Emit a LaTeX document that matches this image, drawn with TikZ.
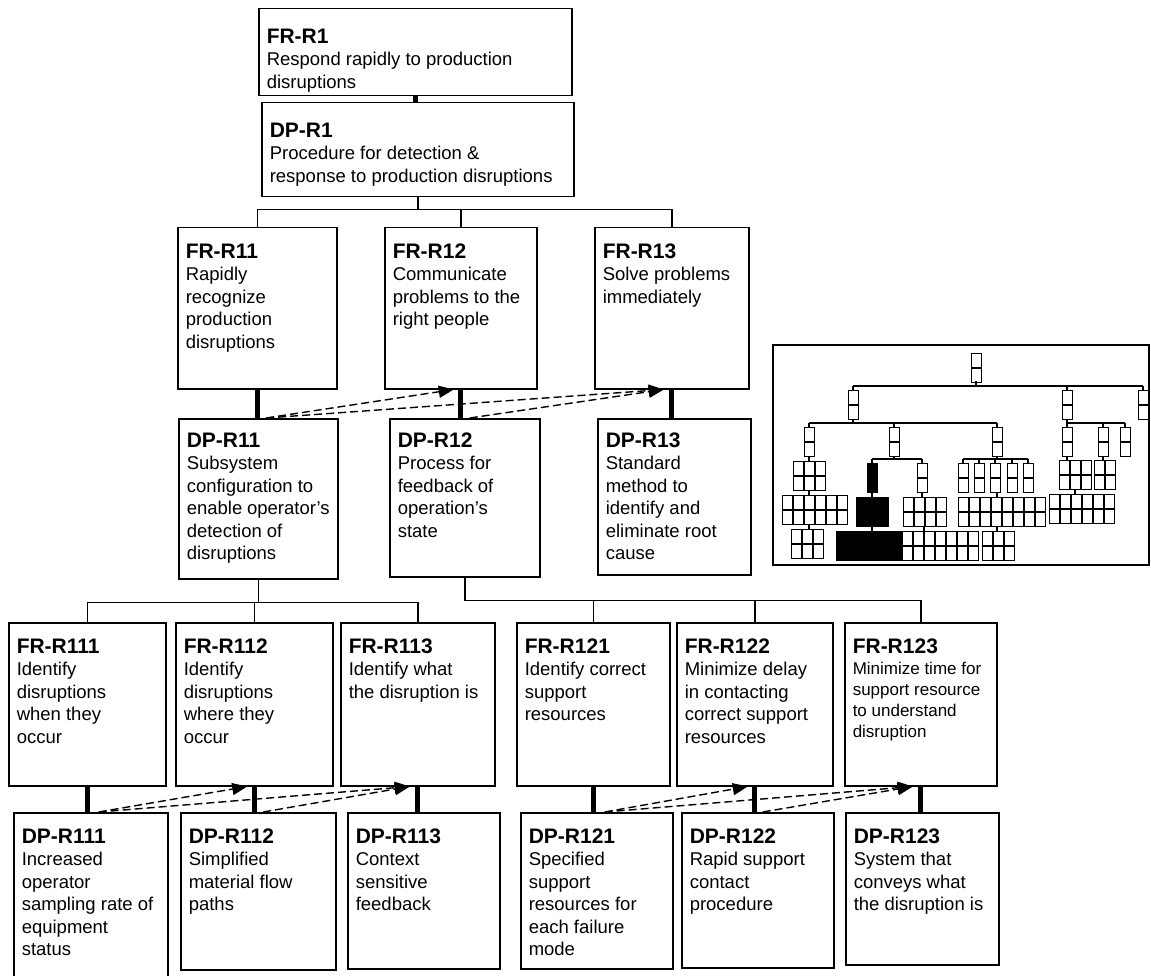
\documentclass[tikz,border=0pt]{standalone}
\usepackage{fontspec}
\setmainfont{Liberation Sans}
\usepackage{tikz}
\usetikzlibrary{arrows.meta}

\newcommand{\reqtext}[5][16]{\parbox[t][#3pt][t]{\dimexpr#2pt-16pt\relax}{\vspace*{#1pt}\raggedright\textbf{\fontsize{21}{22.5}\selectfont #4}\\#5}}
\newcommand{\minigrid}[5]{\foreach \i in {1,...,#3}{\foreach \j in {1,...,#4}{\draw[mini,fill=#5] ({#1+11*(\i-1)},{#2+15*(\j-1)}) rectangle ++(10,14);}}}

\begin{document}
\begin{tikzpicture}[x=1pt,y=-1pt,
  req/.style={draw, line width=1.5pt, anchor=north west, inner xsep=8pt, inner ysep=0pt, font=\fontsize{18.5}{22.5}\selectfont},
  tree/.style={line width=1.5pt},
  vlink/.style={line width=5pt},
  dep/.style={line width=1.4pt, dash pattern=on 8pt off 4pt, -{Triangle[length=15pt,width=12pt]}},
  mini/.style={line width=1pt, draw=black}]
\useasboundingbox (0,0) rectangle (1151,976);

\node[req] (frr1) at (258,8) {\reqtext[20]{313}{87}{FR-R1}{Respond rapidly to production\\disruptions}};
\node[req] (dpr1) at (261,102) {\reqtext[20]{312}{94}{DP-R1}{Procedure for detection \&\\response to production disruptions}};

\node[req] (frr11) at (177,227) {\reqtext{159}{161}{FR-R11}{Rapidly\\recognize\\production\\disruptions}};
\node[req] (frr12) at (384,227) {\reqtext{152}{161}{FR-R12}{Communicate\\problems to the\\right people}};
\node[req] (frr13) at (594,227) {\reqtext{154}{161}{FR-R13}{Solve problems\\immediately}};
\node[req] (dpr11) at (178,418) {\reqtext[14]{159}{160}{DP-R11}{Subsystem\\configuration to\\enable operator's\\detection of\\disruptions}};
\node[req] (dpr12) at (389,418) {\reqtext[14]{150}{158}{DP-R12}{Process for\\feedback of\\operation's\\state}};
\node[req] (dpr13) at (597,418) {\reqtext[14]{153}{156}{DP-R13}{Standard\\method to\\identify and\\eliminate root\\cause}};

\node[req] (frr111) at (8,622) {\reqtext{157}{163}{FR-R111}{Identify\\disruptions\\when they\\occur}};
\node[req] (frr112) at (175,622) {\reqtext{157}{163}{FR-R112}{Identify\\disruptions\\where they\\occur}};
\node[req] (frr113) at (340,622) {\reqtext{154}{163}{FR-R113}{Identify what\\the disruption is}};
\node[req] (frr121) at (516,622) {\reqtext{153}{163}{FR-R121}{Identify correct\\support\\resources}};
\node[req] (frr122) at (676,622) {\reqtext{156}{163}{FR-R122}{Minimize delay\\in contacting\\correct support\\resources}};
\node[req] (frr123) at (844,622) {\reqtext{152}{163}{FR-R123}{\fontsize{17}{21}\selectfont Minimize time for\\support resource\\to understand\\disruption}};

\node[req] (dpr111) at (13,812) {\reqtext{154}{166}{DP-R111}{Increased\\operator\\sampling rate of\\equipment\\status}};
\node[req] (dpr112) at (180,812) {\reqtext{155}{157}{DP-R112}{Simplified\\material flow\\paths}};
\node[req] (dpr113) at (347,812) {\reqtext{152}{156}{DP-R113}{Context\\sensitive\\feedback}};
\node[req] (dpr121) at (520,812) {\reqtext{152}{156}{DP-R121}{Specified\\support\\resources for\\each failure\\mode}};
\node[req] (dpr122) at (681,812) {\reqtext{152}{155}{DP-R122}{Rapid support\\contact\\procedure}};
\node[req] (dpr123) at (845,812) {\reqtext{153}{152}{DP-R123}{System that\\conveys what\\the disruption is}};

\draw[vlink] (frr1.south) -- (frr1.south |- dpr1.north);
\foreach \f/\d in {frr11/dpr11,frr12/dpr12,frr13/dpr13,frr111/dpr111,frr112/dpr112,frr113/dpr113,frr121/dpr121,frr122/dpr122,frr123/dpr123}
  \draw[vlink] (\f.south) -- (\f.south |- \d.north);

\foreach \c in {frr11,frr12,frr13}
  \draw[tree] (dpr1.south) -- ++(0,12) -| (\c.north);
\foreach \c in {frr111,frr112,frr113}
  \draw[tree] (dpr11.south) -- ++(0,23) -| (\c.north);
\foreach \c in {frr121,frr122,frr123}
  \draw[tree] (dpr12.south) -- ++(0,23) -| (\c.north);

\draw[dep] ([xshift=8pt]dpr11.north) -- ([xshift=-7pt]frr12.south);
\draw[dep] ([xshift=8pt]dpr11.north) -- ([xshift=-8pt]frr13.south);
\draw[dep] ([xshift=5pt]dpr12.north) -- ([xshift=-8pt]frr13.south);
\draw[dep] ([xshift=8pt]dpr111.north) -- ([xshift=-7pt]frr112.south);
\draw[dep] ([xshift=8pt]dpr111.north) -- ([xshift=-8pt]frr113.south);
\draw[dep] ([xshift=5pt]dpr112.north) -- ([xshift=-8pt]frr113.south);
\draw[dep] ([xshift=8pt]dpr121.north) -- ([xshift=-7pt]frr122.south);
\draw[dep] ([xshift=8pt]dpr121.north) -- ([xshift=-8pt]frr123.south);
\draw[dep] ([xshift=5pt]dpr122.north) -- ([xshift=-8pt]frr123.south);

\draw[line width=1.8pt] (773,345) rectangle (1149,565);
\minigrid{971}{353}{1}{2}{white}
\draw[tree] (976,381) -- (976,386) (853,386) -- (1143,386);
\foreach \x in {853,1067,1143} \draw[tree] (\x,386) -- (\x,390);
\minigrid{848}{390}{1}{2}{white}
\minigrid{1062}{390}{1}{2}{white}
\minigrid{1138}{390}{1}{2}{white}
\draw[tree] (853,419) -- (853,423) (809,423) -- (997,423) (1067,419) -- (1067,423) -- (1125,423);
\foreach \x in {809,894,997,1067,1103,1125} \draw[tree] (\x,423) -- (\x,427);
\foreach \x in {804,889,992,1062,1098,1120} \minigrid{\x}{427}{1}{2}{white}
\draw[tree] (809,456) -- (809,461) (809,490) -- (809,495) (809,524) -- (809,529);
\minigrid{793}{461}{3}{2}{white}
\minigrid{782}{495}{6}{2}{white}
\minigrid{791}{529}{3}{2}{white}
\draw[tree] (894,456) -- (894,459) (872,459) -- (922,459) (872,459) -- (872,463) (922,459) -- (922,463);
\minigrid{867}{463}{1}{2}{black}
\minigrid{917}{463}{1}{2}{white}
\draw[tree] (872,492) -- (872,497) (872,526) -- (872,531) (922,492) -- (922,497) (924,526) -- (924,531);
\minigrid{856}{497}{3}{2}{black}
\minigrid{903}{497}{4}{2}{white}
\minigrid{836}{531}{6}{2}{black}
\minigrid{902}{531}{7}{2}{white}
\draw[tree] (997,456) -- (997,459) (963,459) -- (1028,459);
\foreach \x in {958,974,990,1007,1023} {\draw[tree] (\x+5,459) -- (\x+5,463); \minigrid{\x}{463}{1}{2}{white}}
\draw[tree] (997,492) -- (997,497) (997,526) -- (997,531);
\minigrid{958}{497}{8}{2}{white}
\minigrid{982}{531}{3}{2}{white}
\draw[tree] (1067,456) -- (1067,460) (1103,456) -- (1103,460) (1075,489) -- (1075,494);
\minigrid{1059}{460}{3}{2}{white}
\minigrid{1094}{460}{2}{2}{white}
\minigrid{1049}{494}{6}{2}{white}
\end{tikzpicture}
\end{document}
